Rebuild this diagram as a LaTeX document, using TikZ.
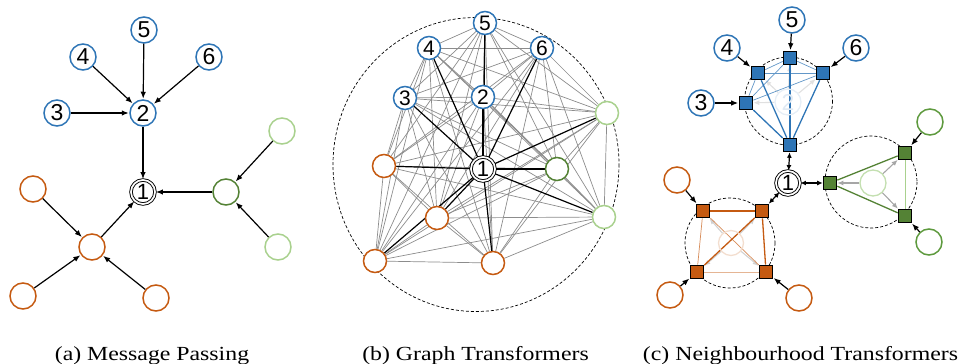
\documentclass[tikz,border=0pt]{standalone}
\usepackage{fontspec}
\usepackage{graphicx}
\setmainfont{Liberation Serif}
\newfontfamily\numfont{Liberation Sans}
\usetikzlibrary{arrows.meta}
\pgfdeclarelayer{background}
\pgfsetlayers{background,main}
\definecolor{cblue}{HTML}{2E75B6}
\definecolor{corange}{HTML}{C55A11}
\definecolor{cdgreen}{HTML}{548235}
\definecolor{clgreen}{HTML}{A9D18E}
\definecolor{cmgreen}{HTML}{5E9A3E}
\tikzset{
  numtxt/.style={font=\numfont\fontsize{23}{23}\selectfont},
  circ/.style={circle, draw, line width=1.5pt, fill=white, inner sep=0pt, minimum size=26pt, numtxt},
  bc/.style={circ, draw=cblue},
  oc/.style={circ, draw=corange},
  dgc/.style={circ, draw=cdgreen},
  lgc/.style={circ, draw=clgreen},
  mgc/.style={circ, draw=cmgreen},
  small/.style={minimum size=23pt, font=\numfont\fontsize{21}{21}\selectfont},
  one/.style={circle, draw=black, double=white, double distance=1.7pt, line width=0.9pt, inner sep=0pt, minimum size=24pt, font=\numfont\fontsize{22}{22}\selectfont, fill=white},
  arr/.style={-{Latex[length=7pt,width=5.5pt]}, line width=1.2pt, black, shorten >=0.5pt},
  darr/.style={{Latex[length=5.5pt,width=5pt]}-{Latex[length=5.5pt,width=5pt]}, line width=1.2pt, black},
  gedge/.style={line width=0.7pt, black!45},
  kedge/.style={line width=1.2pt, black},
  dcirc/.style={draw=black, line width=0.7pt, dash pattern=on 3pt off 2pt},
  sq/.style={rectangle, draw=black, line width=1.1pt, minimum size=13.5pt, inner sep=0pt},
  faint/.style={-{Latex[length=6pt,width=5pt]}, line width=1.1pt},
  captxt/.style={font=\fontsize{20}{22}\selectfont, anchor=base}
}
\begin{document}
\begin{tikzpicture}[x=1pt,y=-1pt]
\useasboundingbox (0,0) rectangle (959,364);
% ================= (a) Message Passing =================
\node[bc] (a5) at (144,30) {5};
\node[bc] (a4) at (83,57) {4};
\node[bc] (a6) at (209,57) {6};
\node[bc] (a3) at (57,113) {3};
\node[bc] (a2) at (143,113) {2};
\node[one] (a1) at (143,192) {1};
\node[dgc] (ag) at (226,192) {};
\node[lgc] (ag1) at (282,131) {};
\node[lgc] (ag2) at (278,247) {};
\node[oc] (ao) at (92,247) {};
\node[oc] (ao1) at (33,189) {};
\node[oc] (ao2) at (23,296) {};
\node[oc] (ao3) at (156,298) {};
\foreach \s in {a3,a4,a5,a6} \draw[arr] (\s) -- (a2);
\draw[arr] (a2) -- (a1);
\draw[arr] (ag) -- (a1);
\draw[arr] (ao) -- (a1);
\draw[arr] (ag1) -- (ag);
\draw[arr] (ag2) -- (ag);
\foreach \s in {ao1,ao2,ao3} \draw[arr] (\s) -- (ao);
% ================= (b) Graph Transformers =================
\node[one] (b1) at (483,169) {1};
\node[bc,small] (b2) at (483,97) {2};
\node[bc,small] (b3) at (405,98) {3};
\node[bc,small] (b4) at (429,48) {4};
\node[bc,small] (b5) at (485,23) {5};
\node[bc,small] (b6) at (542,48) {6};
\node[dgc,small] (b7) at (557,169) {};
\node[lgc,small] (b8) at (607,113) {};
\node[lgc,small] (b9) at (604,217) {};
\node[oc,small] (b10) at (384,166) {};
\node[oc,small] (b11) at (437,218) {};
\node[oc,small] (b12) at (375,261) {};
\node[oc,small] (b13) at (493,263) {};
\coordinate (bc) at (476,164.5);
\begin{pgfonlayer}{background}
\draw[dcirc] (bc) ellipse [x radius=143, y radius=147];
\foreach \a in {2,...,13}{
  \foreach \b in {2,...,13}{
    \ifnum\a<\b \draw[gedge] (b\a) -- (b\b); \fi
  }
}
\foreach \a in {2,...,13} \draw[kedge] (b1) -- (b\a);
\end{pgfonlayer}
% ================= (c) Neighbourhood Transformers =================
\node[one] (c1) at (788,183) {1};
% blue group
\coordinate (cbc) at (788.5,101);
\draw[dcirc] (cbc) circle [radius=44];
\node[circle, draw=cblue!12, line width=1.3pt, minimum size=26pt, inner sep=0pt, text=cblue!15, numtxt] (f2) at (788,102) {2};
\node[bc] (c3) at (701,103) {3};
\node[bc] (c4) at (727,48) {4};
\node[bc] (c5) at (792,20) {5};
\node[bc] (c6) at (856,48) {6};
\node[sq, fill=cblue] (s3) at (746,103) {};
\node[sq, fill=cblue] (s4) at (758,73) {};
\node[sq, fill=cblue] (s5) at (790,58) {};
\node[sq, fill=cblue] (s6) at (823,73) {};
\node[sq, fill=cblue] (sb) at (790,145) {};
\begin{pgfonlayer}{background}
\foreach \s in {s3,s4,s5,s6} \draw[faint, black!12] (f2) -- (\s);
\draw[line width=0.7pt, cblue!75] (s3) -- (s4);
\draw[line width=0.7pt, cblue!75] (s3) -- (s5);
\draw[line width=0.7pt, cblue!75] (s3) -- (s6);
\draw[line width=0.7pt, cblue!75] (s4) -- (s5);
\draw[line width=0.7pt, cblue!75] (s4) -- (s6);
\draw[line width=0.7pt, cblue!75] (s5) -- (s6);
\foreach \s in {s3,s4,s5,s6} \draw[line width=1.3pt, cblue] (sb) -- (\s);
\end{pgfonlayer}
\draw[arr] (c3) -- (s3);
\draw[arr] (c4) -- (s4);
\draw[arr] (c5) -- (s5);
\draw[arr] (c6) -- (s6);
\draw[darr] (sb) -- (c1);
% green group
\coordinate (cgc) at (871,182);
\draw[dcirc] (cgc) circle [radius=46];
\node[circle, draw=clgreen!70, line width=1.3pt, minimum size=26pt, inner sep=0pt] (fg) at (873,183) {};
\node[sq, fill=cdgreen] (g0) at (830,183) {};
\node[sq, fill=cdgreen] (g1) at (905,153) {};
\node[sq, fill=cdgreen] (g2) at (905,216) {};
\node[mgc] (gc1) at (930,122) {};
\node[mgc] (gc2) at (929,242) {};
\begin{pgfonlayer}{background}
\draw[line width=1.3pt, cdgreen] (g0) -- (g1);
\draw[line width=1.3pt, cdgreen] (g0) -- (g2);
\draw[line width=0.8pt, clgreen] (g1) -- (g2);
\end{pgfonlayer}
\foreach \s in {g0,g1,g2} \draw[faint, black!35] (fg) -- (\s);
\draw[arr] (gc1) -- (g1);
\draw[arr] (gc2) -- (g2);
\draw[darr] (c1) -- (g0);
% orange group
\coordinate (coc) at (730,243);
\draw[dcirc] (coc) circle [radius=45];
\node[circle, draw=corange!20, line width=1.3pt, minimum size=25pt, inner sep=0pt] (fo) at (731,243) {};
\node[sq, fill=corange] (o0) at (762,211) {};
\node[sq, fill=corange] (o1) at (703,211) {};
\node[sq, fill=corange] (o2) at (697,272) {};
\node[sq, fill=corange] (o3) at (766,272) {};
\node[oc] (oc1) at (677,180) {};
\node[oc] (oc2) at (670,295) {};
\node[oc] (oc3) at (799,298) {};
\begin{pgfonlayer}{background}
\foreach \s in {o0,o1,o2,o3} \draw[faint, black!18] (fo) -- (\s);
\draw[line width=0.7pt, corange!70] (o1) -- (o2);
\draw[line width=0.7pt, corange!70] (o1) -- (o3);
\draw[line width=0.7pt, corange!45] (o2) -- (o3);
\draw[line width=1.3pt, corange] (o0) -- (o1);
\draw[line width=1.3pt, corange] (o0) -- (o2);
\draw[line width=1.3pt, corange] (o0) -- (o3);
\end{pgfonlayer}
\draw[arr] (oc1) -- (o1);
\draw[arr] (oc2) -- (o2);
\draw[arr] (oc3) -- (o3);
\draw[darr] (c1) -- (o0);
% ================= captions =================
\node[captxt] (capa) at (152,360) {\scalebox{1.19}[1]{(a) Message Passing}};
\node[captxt] (capb) at (475.5,360) {\scalebox{1.19}[1]{(b) Graph Transformers}};
\node[captxt] (capc) at (800.5,360) {\scalebox{1.19}[1]{(c) Neighbourhood Transformers}};
\end{tikzpicture}
\end{document}
